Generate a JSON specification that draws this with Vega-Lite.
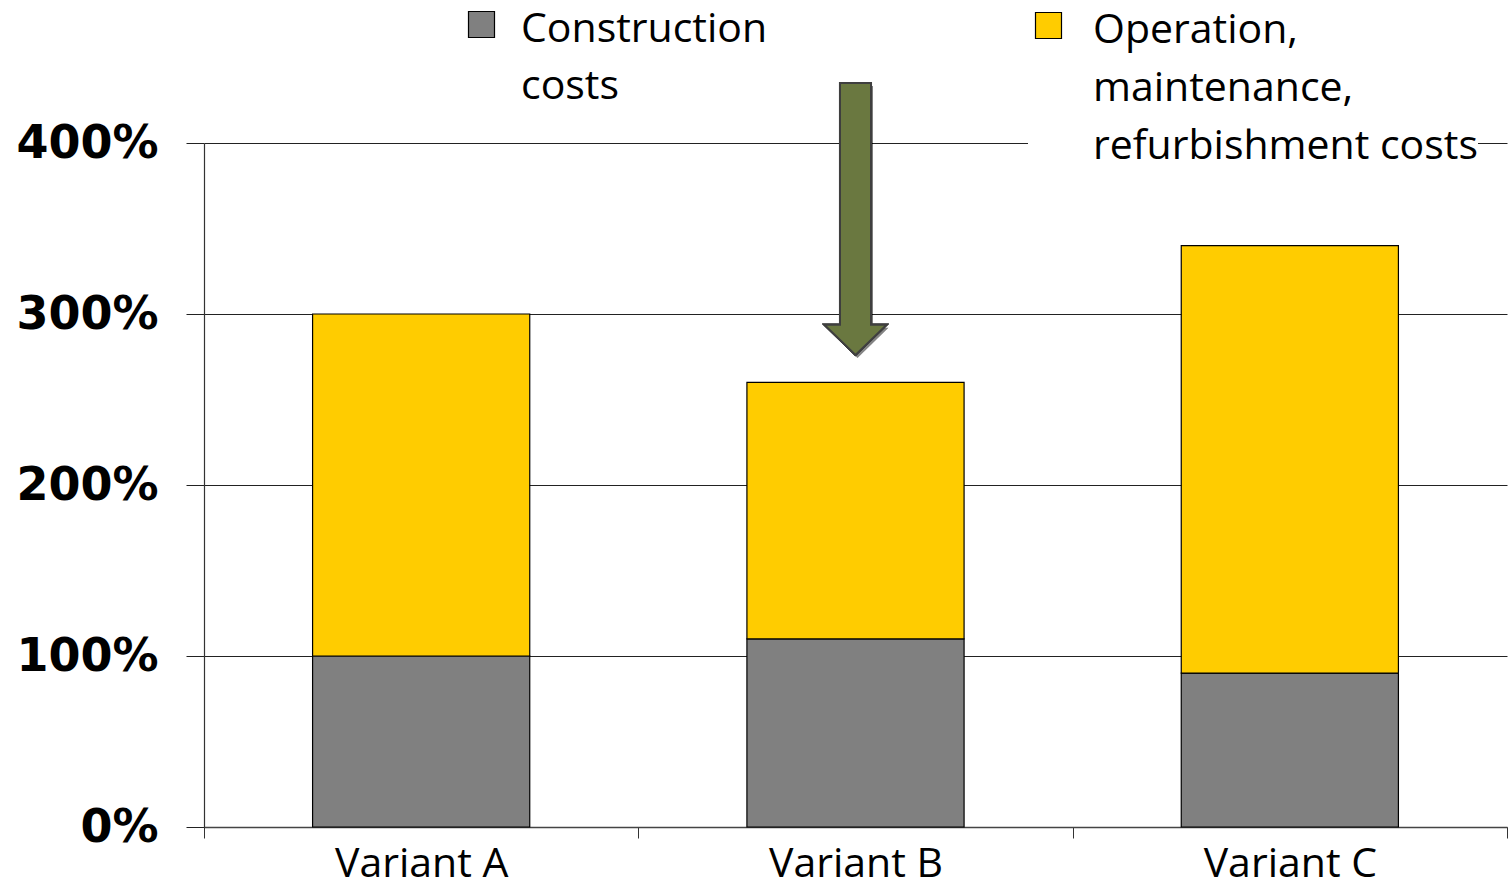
{
  "$schema": "https://vega.github.io/schema/vega-lite/v6.json",
  "width": 1303,
  "height": 684,
  "autosize": {"type": "none"},
  "padding": {"left": 204, "top": 143, "right": 5, "bottom": 54},
  "background": "white",
  "config": {"view": {"stroke": null}},
  "data": {
    "values": [
      {"variant": "Variant A", "cost": "Construction costs", "value": 100},
      {"variant": "Variant A", "cost": "Operation, maintenance, refurbishment costs", "value": 200},
      {"variant": "Variant B", "cost": "Construction costs", "value": 110},
      {"variant": "Variant B", "cost": "Operation, maintenance, refurbishment costs", "value": 150},
      {"variant": "Variant C", "cost": "Construction costs", "value": 90},
      {"variant": "Variant C", "cost": "Operation, maintenance, refurbishment costs", "value": 250}
    ]
  },
  "transform": [
    {"stack": "value", "groupby": ["variant"], "sort": [{"field": "cost", "order": "ascending"}], "as": ["v0", "v1"]}
  ],
  "encoding": {
    "x": {
      "field": "variant",
      "type": "nominal",
      "scale": {"paddingInner": 0, "paddingOuter": 0},
      "axis": {
        "title": null,
        "labelAngle": 0,
        "labelFont": "Open Sans",
        "labelFontSize": 41,
        "labelColor": "#000",
        "labelPadding": 6,
        "tickSize": 11,
        "tickBand": "extent",
        "tickColor": "#333",
        "domainColor": "#444",
        "domainWidth": 1.5
      }
    }
  },
  "layer": [
    {
      "transform": [{"filter": "datum.cost == 'Construction costs'"}],
      "mark": {"type": "bar", "stroke": "#000", "strokeWidth": 1.2, "width": {"band": 0.5}},
      "encoding": {
        "y": {
          "field": "v0",
          "type": "quantitative",
          "scale": {"domain": [0, 400], "nice": false},
          "axis": {
            "title": null,
            "values": [0, 100, 200, 300, 400],
            "labelExpr": "datum.value + '%'",
            "labelFont": "DejaVu Sans",
            "labelFontWeight": "bold",
            "labelFontSize": 46,
            "labelColor": "#000",
            "labelPadding": 28,
            "tickSize": 18,
            "tickColor": "#222",
            "grid": true,
            "gridColor": "#222",
            "gridWidth": 1,
            "domainColor": "#333",
            "domainWidth": 1.2
          }
        },
        "y2": {"field": "v1"},
        "color": {
          "field": "cost",
          "type": "nominal",
          "scale": {"range": ["#808080"]},
          "legend": {
            "orient": "none",
            "legendX": 257,
            "legendY": -139,
            "title": null,
            "padding": 0,
            "symbolType": "square",
            "symbolSize": 676,
            "symbolStrokeColor": "#000",
            "symbolStrokeWidth": 1.2,
            "labelFont": "Open Sans",
            "labelFontSize": 41,
            "labelColor": "#000",
            "labelOffset": 19,
            "labelLimit": 0,
            "labelBaseline": "alphabetic",
            "labelExpr": "['Construction', 'costs']",
            "encode": {"labels": {"update": {"lineHeight": {"value": 57}, "dy": {"value": 17}}}}
          }
        }
      }
    },
    {
      "transform": [{"filter": "datum.cost != 'Construction costs'"}],
      "mark": {"type": "bar", "stroke": "#000", "strokeWidth": 1.2, "width": {"band": 0.5}},
      "encoding": {
        "y": {"field": "v0", "type": "quantitative"},
        "y2": {"field": "v1"},
        "color": {
          "field": "cost",
          "type": "nominal",
          "scale": {"range": ["#FFCC00"]},
          "legend": {
            "orient": "none",
            "legendX": 824,
            "legendY": -138,
            "title": null,
            "padding": 0,
            "fillColor": "white",
            "symbolType": "square",
            "symbolSize": 676,
            "symbolStrokeColor": "#000",
            "symbolStrokeWidth": 1.2,
            "labelFont": "Open Sans",
            "labelFontSize": 41,
            "labelColor": "#000",
            "labelOffset": 24,
            "labelLimit": 0,
            "labelBaseline": "alphabetic",
            "labelExpr": "['Operation,', 'maintenance,', 'refurbishment costs']",
            "encode": {"labels": {"update": {"lineHeight": {"value": 58}, "dy": {"value": 17}}}}
          }
        }
      }
    },
    {
      "mark": {
        "type": "point",
        "shape": "M-0.114,-1L0.114,-1L0.114,0.779L0.228,0.779L0,1L-0.228,0.779L-0.114,0.779Z",
        "filled": true,
        "fill": "#000",
        "opacity": 0.1,
        "strokeWidth": 0,
        "size": 73984,
        "xOffset": 2,
        "yOffset": 3
      },
      "encoding": {
        "x": {"datum": "Variant B"},
        "y": {"datum": 355.6}
      }
    },
    {
      "mark": {
        "type": "point",
        "shape": "M-0.114,-1L0.114,-1L0.114,0.779L0.228,0.779L0,1L-0.228,0.779L-0.114,0.779Z",
        "filled": true,
        "fill": "#6A7840",
        "stroke": "#3F3F3F",
        "strokeWidth": 2,
        "opacity": 1,
        "size": 73984
      },
      "encoding": {
        "x": {"datum": "Variant B"},
        "y": {"datum": 355.6}
      }
    }
  ],
  "resolve": {"scale": {"color": "independent"}, "legend": {"color": "independent"}}
}
